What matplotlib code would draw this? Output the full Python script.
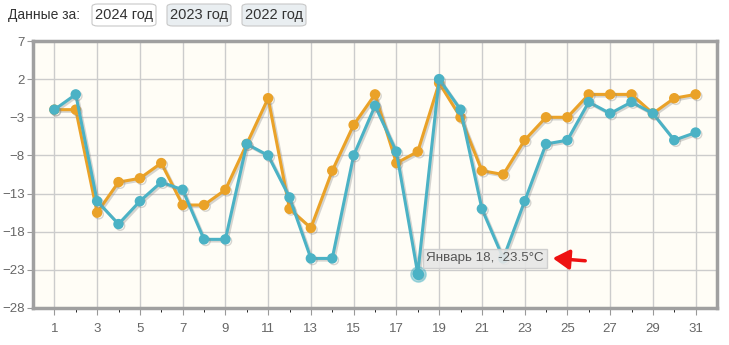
import numpy as np
import matplotlib.pyplot as plt
import matplotlib.patheffects as pe
from matplotlib.patches import FancyBboxPatch, FancyArrowPatch

plt.rcParams['font.family'] = ['Liberation Sans', 'DejaVu Sans']

# data
days = list(range(1, 32))
temp_2024 = [-2, 0, -14, -17, -14, -11.5, -12.5, -19, -19, -6.5,
             -8, -13.5, -21.5, -21.5, -8, -1.5, -7.5, -23.5, 2, -2,
             -15, -21.5, -14, -6.5, -6, -1, -2.5, -1, -2.5, -6, -5]
temp_other = [-2, -2, -15.5, -11.5, -11, -9, -14.5, -14.5, -12.5, -6.5,
              -0.5, -15, -17.5, -10, -4, 0, -9, -7.5, 1.5, -3,
              -10, -10.5, -6, -3, -3, 0, 0, 0, -2.5, -0.5, 0]
years = ['2024 год', '2023 год', '2022 год']
y_ticks = [-28, -23, -18, -13, -8, -3, 2, 7]
hl_day = 18
tooltip = 'Январь 18, -23.5°C'

orange = '#eaa228'
teal = '#4bb2c5'

fig = plt.figure(figsize=(7.29, 3.45), dpi=100)
ax = fig.add_axes([33 / 729, 1 - 308 / 345, 684 / 729, 267 / 345])
ax.set_facecolor('#fffdf6')

shadow = [pe.SimpleLineShadow(offset=(1.2, -1.2), shadow_color='#888888', alpha=0.35), pe.Normal()]
ax.plot(days, temp_other, color=orange, lw=2.2, marker='o', ms=6.5,
        path_effects=shadow, zorder=3)
ax.plot(days, temp_2024, color=teal, lw=2.2, marker='o', ms=6.5,
        path_effects=shadow, zorder=4)

# highlighted point
i = days.index(hl_day)
ax.plot(days[i], temp_2024[i], 'o', ms=11, color=teal, alpha=0.45, zorder=5)
ax.plot(days[i], temp_2024[i], 'o', ms=7, color=teal, zorder=6)

ax.set_xlim(0, 32)
ax.set_ylim(-28, 7)
ax.set_yticks(y_ticks)
ax.set_xticks(days[::2])
ax.set_xticks(days, minor=True)
ax.grid(True, color='#cccccc', lw=1)
ax.set_axisbelow(True)
ax.tick_params(axis='both', colors='#999999', labelcolor='#666666', labelsize=9.5)
ax.tick_params(axis='x', which='major', length=5, pad=6)
ax.tick_params(axis='x', which='minor', length=3)
ax.tick_params(axis='y', length=4, pad=2)
for s in ax.spines.values():
    s.set_color('#a0a0a0')
    s.set_linewidth(2.5)

# tooltip
ax.text(days[i] + 0.4, temp_2024[i] + 2.0, tooltip, fontsize=9.6, color='#555555',
        va='center', ha='left', zorder=7,
        bbox=dict(boxstyle='square,pad=0.25', fc='#e6e6e6', ec='#cccccc', alpha=0.9))
arrow = FancyArrowPatch((588 / 729, 1 - 261 / 345), (550 / 729, 1 - 258 / 345),
                        transform=fig.transFigure, arrowstyle='-|>,head_length=10,head_width=6',
                        color='#ee1111', lw=2.5, mutation_scale=1)
fig.patches.append(arrow)

# year selector
fig.text(8 / 729, 1 - 15 / 345, 'Данные за:', fontsize=10, color='#333333', va='center')
x0 = 92
for k, label in enumerate(years):
    fc = '#ffffff' if k == 0 else '#e9eef1'
    box = FancyBboxPatch((x0 / 729, 1 - 26 / 345), 64 / 729, 22 / 345,
                         boxstyle='round,pad=0,rounding_size=0.008',
                         transform=fig.transFigure, fc=fc, ec='#c8c8c8', lw=0.8)
    fig.patches.append(box)
    fig.text((x0 + 32) / 729, 1 - 15.5 / 345, label, fontsize=10.5, color='#333333',
             ha='center', va='center')
    x0 += 75

fig.savefig('out.png', dpi=100)
